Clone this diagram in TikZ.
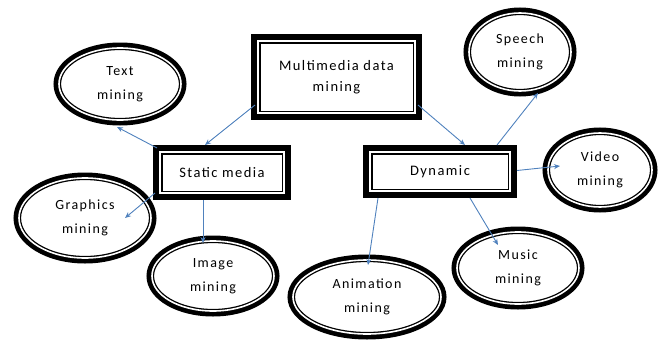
\documentclass[tikz,border=0pt]{standalone}
\usepackage{fontspec}
\setmainfont[LetterSpace=10]{Carlito}
\usetikzlibrary{shapes.geometric,arrows.meta,calc}
\definecolor{linkblue}{RGB}{79,129,189}

\begin{document}
\begin{tikzpicture}[x=1pt,y=-1pt,
  % heavy black frame with a thin inner rule
  framebox/.style={rectangle,inner sep=0pt,outer sep=0pt,
    preaction={draw=black,line width=14pt},
    fill=white,draw=black,line width=1.5pt,double=white,double distance=2pt,
    align=center,font=\fontsize{14.5}{21}\selectfont},
  oval/.style={ellipse,inner sep=0pt,outer sep=0pt,
    preaction={draw=black,line width=11pt},
    fill=white,draw=black,line width=1.3pt,double=white,double distance=1.6pt,
    align=center,font=\fontsize{14}{24}\selectfont},
  link/.style={draw=linkblue,line width=0.9pt,-{Stealth[length=6pt,width=5pt]}}]

\useasboundingbox (0,0) rectangle (659,343);

% main categories
\node[framebox,minimum width=157,minimum height=72] (mm) at (336.5,77) {Multimedia data\\mining};
\node[framebox,minimum width=124,minimum height=41] (st) at (222,172.5) {Static media};
\node[framebox,minimum width=140,minimum height=39] (dyn) at (440,171.5) {Dynamic};

% leaf techniques
\node[oval,minimum width=122,minimum height=72] (txt) at (120,84) {Text\\mining};
\node[oval,minimum width=132,minimum height=80] (gr) at (85,218) {Graphics\\mining};
\node[oval,minimum width=122,minimum height=70] (img) at (213,276) {Image\\mining};
\node[oval,minimum width=148,minimum height=74] (an) at (367,297) {Animation\\mining};
\node[oval,minimum width=122,minimum height=72] (mu) at (518,268) {Music\\mining};
\node[oval,minimum width=102,minimum height=78] (sp) at (520,52) {Speech\\mining};
\node[oval,minimum width=104,minimum height=74] (vid) at (600,170) {Video\\mining};

% connectors
\draw[link] ($(mm.south west)+(-3,-8)$) -- ($(st.north)+(-17,-7)$);
\draw[link] ($(mm.south east)+(3,-8)$) -- ($(dyn.north)+(25,-7)$);
\draw[link] ($(st.north west)+(-3,-4)$) -- ($(txt.south)+(-3,7)$);
\draw[link] ($(st.south west)+(-5,0)$) -- ($(gr.center)+(40,0)$);
\draw[link] ($(st.south)+(-19,7)$) -- ($(img.north)+(-10,2)$);
\draw[link] ($(dyn.north)+(57,-7)$) -- ($(sp.south)+(18,2)$);
\draw[link] ($(dyn.east)+(7,-1)$) -- ($(vid.west)+(12,-4)$);
\draw[link] ($(dyn.south west)+(8,7)$) -- ($(an.north)+(1,5)$);
\draw[link] ($(dyn.south)+(30,7)$) -- ($(mu.north)+(-20,13)$);
\end{tikzpicture}
\end{document}
